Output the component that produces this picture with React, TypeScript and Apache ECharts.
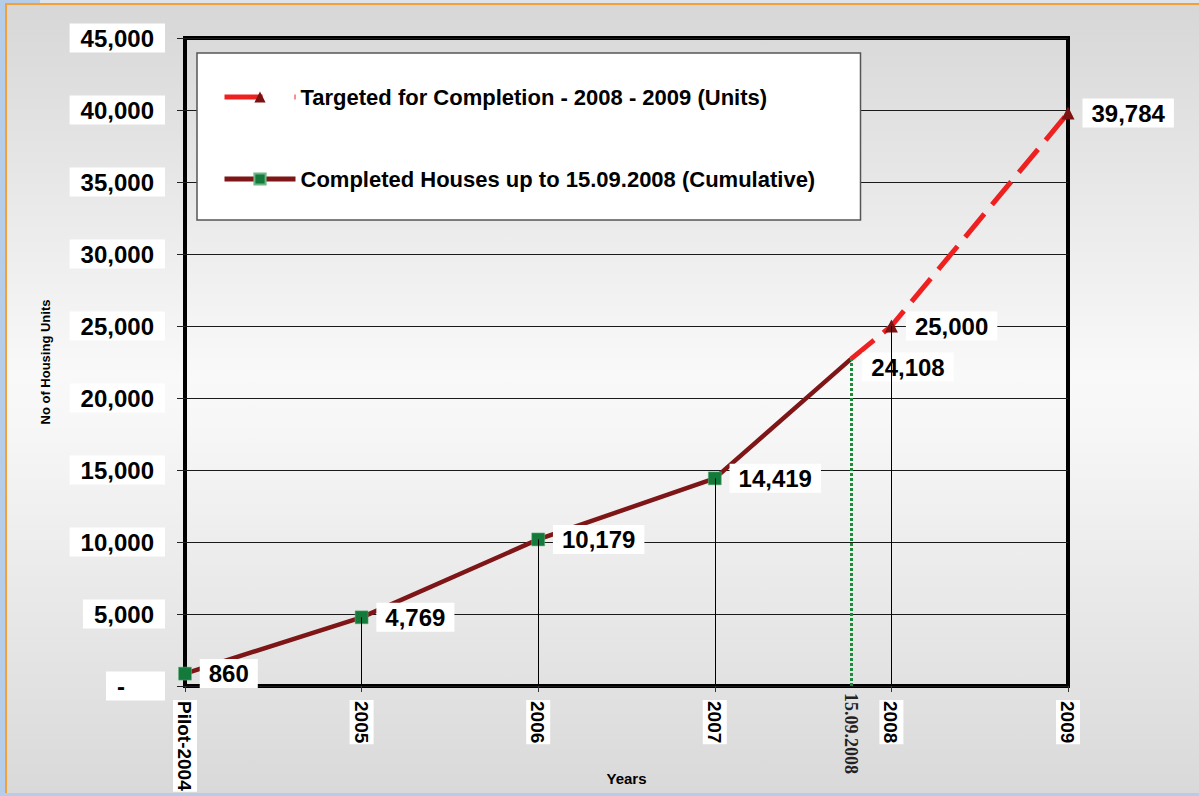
import React, { useEffect, useRef } from "react";
import * as echarts from "echarts";

const categories = ["Pilot-2004", "2005", "2006", "2007", "2008", "2009"];
const completedX = [0, 1, 2, 3, 3.77];
const completedY = [860, 4769, 10179, 14419, 22700];
const completedLabels = ["860", "4,769", "10,179", "14,419", "24,108"];
const targetX = [3.77, 4, 5];
const targetY = [22700, 25000, 39784];
const targetLabels = ["", "25,000", "39,784"];
const cutoffX = 3.77;
const cutoffLabel = "15.09.2008";
const dropIdxCompleted = [1, 2, 3];
const dropIdxTarget = [1];
const yMin = 0;
const yMax = 45000;
const yStep = 5000;
const targetName = "Targeted for Completion - 2008 - 2009 (Units)";
const completedName = "Completed Houses up to 15.09.2008 (Cumulative)";

const SANS = "'Liberation Sans', Arial, sans-serif";

export default function App() {
  const ref = useRef<HTMLDivElement>(null);
  useEffect(() => {
    if (!ref.current) return;
    const chart = echarts.init(ref.current, null, { renderer: "svg" });
    const labelBase = {
      show: true,
      position: "right",
      distance: 8,
      fontSize: 24,
      fontWeight: "bold",
      fontFamily: SANS,
      color: "#000",
      backgroundColor: "#fff",
      padding: [3, 9, 2, 9],
    };
    const lastC = completedX.length - 1;
    const option: any = {
      animation: false,
      backgroundColor: "transparent",
      grid: {
        left: 185,
        right: 131,
        top: 38,
        bottom: 110,
        outerBoundsMode: "none",
        containLabel: false,
        show: true,
        borderColor: "#000",
        borderWidth: 4,
        backgroundColor: "transparent",
      },
      legend: {
        left: 197,
        top: 53,
        orient: "vertical",
        itemWidth: 71,
        itemHeight: 14,
        itemGap: 60,
        padding: [33, 29, 30, 25],
        backgroundColor: "#fff",
        borderColor: "#555",
        borderWidth: 1.5,
        selectedMode: false,
        data: [
          {
            name: targetName,
            lineStyle: { width: 5, color: "#ee2020", type: [38, 32] },
            itemStyle: { color: "#7b1111" },
          },
          {
            name: completedName,
            lineStyle: { width: 5, color: "#7e1517", type: "solid" },
            itemStyle: { color: "#137a3b" },
          },
        ],
        textStyle: {
          fontSize: 22,
          fontWeight: "bold",
          fontFamily: SANS,
          color: "#000",
          lineHeight: 20,
          width: 531,
        },
      },
      xAxis: [
        {
          type: "value",
          min: 0,
          max: categories.length - 1,
          interval: 1,
          position: "bottom",
          axisLine: { show: false },
          axisTick: { show: true, length: 6, lineStyle: { color: "#333" } },
          splitLine: { show: false },
          axisLabel: {
            rotate: -90,
            margin: 14,
            formatter: (v: number) => "{c|" + (categories[Math.round(v)] ?? "") + "}",
            rich: {
              c: {
                fontSize: 19,
                fontWeight: "bold",
                fontFamily: SANS,
                color: "#000",
                backgroundColor: "#fff",
                padding: [3, 1, 2, 1],
                lineHeight: 19,
              },
            },
          },
          name: "Years",
          nameLocation: "middle",
          nameGap: 85,
          nameMoveOverlap: false,
          nameTextStyle: { fontSize: 15, fontWeight: "bold", fontFamily: SANS, color: "#000" },
        },
        {
          type: "value",
          min: 0,
          max: categories.length - 1,
          position: "bottom",
          offset: 0,
          axisLine: { show: false },
          axisTick: { show: false },
          splitLine: { show: false },
          axisLabel: {
            customValues: [cutoffX],
            rotate: -90,
            margin: 7,
            formatter: (v: number) => (Math.abs(v - cutoffX) < 1e-6 ? cutoffLabel : ""),
            fontSize: 18,
            fontWeight: "bold",
            fontFamily: "'Liberation Serif', 'Times New Roman', serif",
            color: "#222",
          },
        },
      ],
      yAxis: {
        type: "value",
        min: yMin,
        max: yMax,
        interval: yStep,
        axisLine: { show: false },
        axisTick: { show: true, length: 8, lineStyle: { color: "#222" } },
        splitLine: { show: true, lineStyle: { color: "#1a1a1a", width: 1 } },
        axisLabel: {
          margin: 20,
          formatter: (v: number) =>
            v === 0 ? "{z|-}" : "{b|" + v.toLocaleString("en-US") + "}",
          rich: {
            b: {
              fontSize: 24,
              fontWeight: "bold",
              fontFamily: SANS,
              color: "#000",
              backgroundColor: "#fff",
              padding: [3, 11, 2, 11],
            },
            z: {
              fontSize: 24,
              fontWeight: "bold",
              fontFamily: SANS,
              color: "#000",
              backgroundColor: "#fff",
              padding: [3, 40, 2, 11],
            },
          },
        },
        name: "No of Housing Units",
        nameLocation: "middle",
        nameGap: 133,
        nameMoveOverlap: false,
        nameTextStyle: { fontSize: 13, fontWeight: "bold", fontFamily: SANS, color: "#000" },
      },
      series: [
        {
          name: targetName,
          type: "line",
          xAxisIndex: 0,
          symbol: "triangle",
          symbolSize: 13,
          itemStyle: { color: "#7b1111" },
          lineStyle: { color: "#ee2020", width: 5, type: [30, 12] },
          emphasis: { disabled: true },
          z: 3,
          data: targetX.map((x, i) => ({
            value: [x, targetY[i]],
            symbol: targetLabels[i] ? "triangle" : "none",
            label: targetLabels[i] ? {} : { show: false },
          })),
          label: { ...labelBase, formatter: (p: any) => targetLabels[p.dataIndex] },
          markLine: {
            silent: true,
            symbol: ["none", "none"],
            label: { show: false },
            lineStyle: { color: "#000", width: 1, type: "solid" },
            data: dropIdxTarget.map((i) => [
              { coord: [targetX[i], 0] },
              { coord: [targetX[i], targetY[i]] },
            ]),
          },
        },
        {
          name: completedName,
          type: "line",
          xAxisIndex: 0,
          symbol: "rect",
          symbolSize: 13,
          itemStyle: { color: "#137a3b", borderColor: "#6fb585", borderWidth: 0.5 },
          lineStyle: { color: "#7e1517", width: 4.5 },
          emphasis: { disabled: true },
          z: 4,
          data: completedX.map((x, i) =>
            i === lastC
              ? {
                  value: [x, completedY[i]],
                  symbol: "circle",
                  symbolSize: 1,
                  itemStyle: { color: "rgba(0,0,0,0)", borderWidth: 0 },
                  label: { distance: 11, offset: [0, 8] },
                }
              : { value: [x, completedY[i]] }
          ),
          label: { ...labelBase, formatter: (p: any) => completedLabels[p.dataIndex] },
          markLine: {
            silent: true,
            symbol: ["none", "none"],
            label: { show: false },
            lineStyle: { color: "#000", width: 1, type: "solid" },
            data: [
              ...dropIdxCompleted.map((i) => [
                { coord: [completedX[i], 0] },
                { coord: [completedX[i], completedY[i]] },
              ]),
              [
                { coord: [cutoffX, 0], lineStyle: { color: "#1e8a3c", width: 3, type: [3, 2] } },
                { coord: [cutoffX, completedY[lastC]] },
              ],
            ],
          },
        },
      ],
    };
    chart.setOption(option);
    return () => chart.dispose();
  }, []);

  return (
    <div
      style={{
        position: "fixed",
        left: 0,
        top: 0,
        width: 1199,
        height: 796,
        background: "#b5cde9",
        overflow: "hidden",
      }}
    >
      <div
        style={{
          position: "absolute",
          left: 40,
          top: 0,
          width: 1159,
          height: 3,
          background: "#dfe4ea",
        }}
      />
      <div
        style={{
          position: "absolute",
          left: 5,
          top: 3,
          width: 1194,
          height: 790,
          boxSizing: "border-box",
          borderLeft: "2px solid #f4a03a",
          borderTop: "2px solid #f4a03a",
          background:
            "linear-gradient(to bottom, #d7d7d7 0%, #f9f9f9 47%, #f7f7f7 53%, #d9d9d9 100%)",
        }}
      />
      <div
        ref={ref}
        style={{ position: "absolute", left: 0, top: 0, width: 1199, height: 796 }}
      />
    </div>
  );
}
